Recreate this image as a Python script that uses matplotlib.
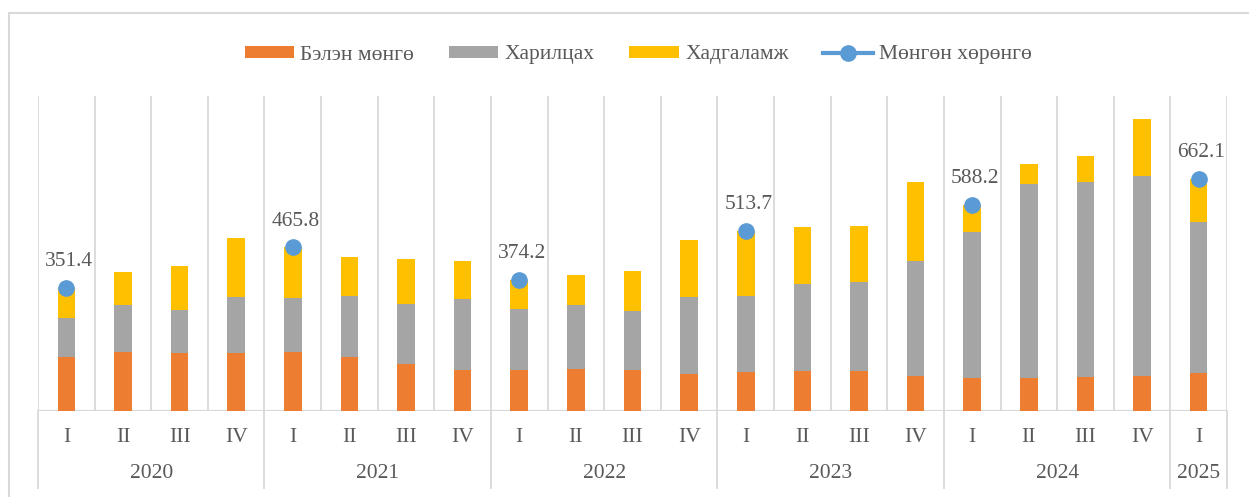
import matplotlib
matplotlib.use("Agg")
import matplotlib.pyplot as plt
import numpy as np
from matplotlib.lines import Line2D
from matplotlib.patches import Rectangle

# ---- data ----
years = ['2020', '2021', '2022', '2023', '2024', '2025']
quarters_per_year = [['I', 'II', 'III', 'IV'], ['I', 'II', 'III', 'IV'], ['I', 'II', 'III', 'IV'],
                     ['I', 'II', 'III', 'IV'], ['I', 'II', 'III', 'IV'], ['I']]
cash = [154, 167, 165, 163, 166, 154, 134, 117, 116, 120, 115, 105,
        111, 112, 112, 99, 92, 92, 95, 100, 107]
current = [110, 134, 123, 161, 155, 173, 171, 202, 173, 181, 168, 218,
           217, 250, 256, 328, 417, 556, 557, 569, 431]
savings = [87.4, 95, 126, 168, 144.8, 113, 128, 107, 85.2, 87, 116, 165,
           185.7, 161, 160, 226, 79.2, 56, 74, 165, 124.1]
total = [351.4, None, None, None, 465.8, None, None, None, 374.2, None, None, None,
         513.7, None, None, None, 588.2, None, None, None, 662.1]
series_names = ['Бэлэн мөнгө', 'Харилцах', 'Хадгаламж', 'Мөнгөн хөрөнгө']

colors = ['#ED7D31', '#A5A5A5', '#FFC000', '#5B9BD5']
txt = '#595959'
grid = '#D9D9D9'

plt.rcParams['font.family'] = ['Liberation Serif', 'DejaVu Serif']

W, H = 1249, 497
fig = plt.figure(figsize=(W / 100, H / 100), dpi=100)
ax_left, ax_right = 38 / W, 1227 / W
base_y, top_y = 410.5, 95.5
ax = fig.add_axes([ax_left, (H - base_y) / H, ax_right - ax_left, (base_y - top_y) / H])

n = len(cash)
x = np.arange(n)
bw = 0.31
b1 = ax.bar(x, cash, bw, color=colors[0], label=series_names[0], zorder=3)
b2 = ax.bar(x, current, bw, bottom=cash, color=colors[1], label=series_names[1], zorder=3)
bot3 = np.array(cash) + np.array(current)
b3 = ax.bar(x, savings, bw, bottom=bot3, color=colors[2], label=series_names[2], zorder=3)

tot = np.array([np.nan if v is None else v for v in total], dtype=float)
ln, = ax.plot(x, tot, color=colors[3], lw=3, marker='o', ms=11, zorder=4,
              label=series_names[3])
for xi, v in zip(x, tot):
    if not np.isnan(v):
        ax.annotate(f'{v:.1f}', (xi, v), xytext=(2, 12), textcoords='offset points',
                    ha='center', va='bottom', fontsize=15.5, color=txt, zorder=5)

ax.set_xlim(-0.5, n - 0.5)
ax.set_ylim(0, 900)
for s in ax.spines.values():
    s.set_visible(False)
ax.set_xticks([])
ax.set_yticks([])

# vertical grid lines between categories
for b in np.arange(n + 1) - 0.5:
    ax.axvline(b, color=grid, lw=1.3, zorder=1)
ax.axhline(0, color=grid, lw=1.6, zorder=2)

# multi-level category axis
tr = ax.get_xaxis_transform()
axh = base_y - top_y
q_y = (base_y - 437) / axh
y_y = (base_y - 474) / axh
sep_y = (base_y - 488) / axh
pos = 0
bounds = [-0.5]
for yr, qs in zip(years, quarters_per_year):
    for q in qs:
        ax.text(pos, q_y, q, transform=tr, ha='center', va='center',
                fontsize=15.5, color=txt, clip_on=False)
        pos += 1
    ax.text(pos - len(qs) / 2 - 0.5, y_y, yr, transform=tr, ha='center', va='center',
            fontsize=15.5, color=txt, clip_on=False)
    bounds.append(pos - 0.5)
for b in bounds:
    ax.add_line(Line2D([b, b], [0, sep_y], transform=tr, color=grid, lw=1.3, clip_on=False))

# legend
leg = fig.legend(handles=[b1, b2, b3, ln], labels=series_names, loc='center',
                 bbox_to_anchor=(0.511, 1 - 55 / H), ncol=4, frameon=False,
                 fontsize=15.5, handlelength=2.3, handleheight=0.45,
                 handletextpad=0.3, columnspacing=1.6, labelcolor=txt)

# outer frame
fig.add_artist(Rectangle((8.5 / W, -0.1), 1.2, 0.1 + (1 - 13 / H), transform=fig.transFigure,
                         fill=False, edgecolor=grid, lw=1.5))

fig.savefig('out.png', dpi=100)
